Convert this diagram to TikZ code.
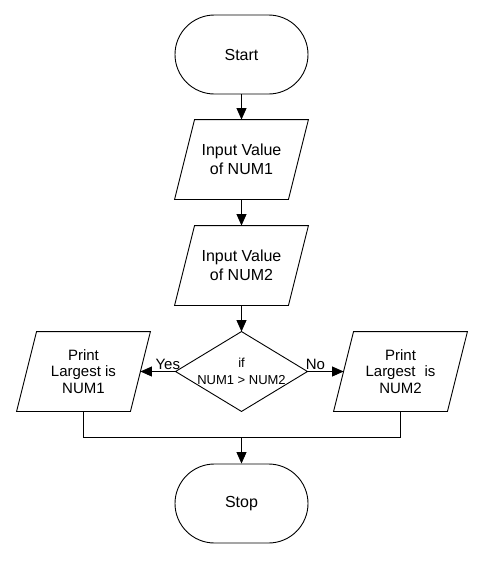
\documentclass[tikz,border=0pt]{standalone}
\usepackage{fontspec}
\setmainfont{Liberation Sans}
\usetikzlibrary{arrows.meta,shapes.misc}
\begin{document}
\begin{tikzpicture}[x=1pt,y=-1pt,line width=0.9pt,
  term/.style={rounded rectangle,draw,minimum width=133pt,minimum height=79pt,inner sep=0pt,font=\fontsize{16}{18.5}\selectfont},
  iobox/.style={rectangle,minimum width=113pt,minimum height=79pt,inner sep=0pt,align=center,font=\fontsize{16}{18.5}\selectfont},
  prbox/.style={rectangle,minimum width=113pt,minimum height=79pt,inner sep=0pt,align=center,font=\fontsize{15}{16.7}\selectfont},
  decbox/.style={rectangle,minimum width=131pt,minimum height=79pt,inner sep=0pt,align=center,font=\fontsize{13}{17}\selectfont},
  lbl/.style={font=\fontsize{15}{17}\selectfont,inner sep=0pt},
  arr/.style={-{Triangle[length=11.5pt,width=10pt]}}]
\useasboundingbox (0,0) rectangle (500,571);
\node[term] (start) at (241.5,54.5) {Start};
\node[iobox] (in1) at (241.5,159.5) {Input Value\\of NUM1};
\node[iobox] (in2) at (241.5,265.5) {Input Value\\of NUM2};
\node[decbox] (dec) at (241.5,371.5) {if\\NUM1 > NUM2};
\node[prbox] (pl) at (83.5,371.5) {Print\\Largest is\\NUM1};
\node[prbox] (pr) at (400.5,371.5) {Print\\Largest\hspace{9pt}is\\NUM2};
\node[term] (stop) at (241.5,503.5) {Stop};
\coordinate (m) at (241.5,437);
% parallelogram outlines
\foreach \n in {in1,in2,pl,pr}{
  \draw ([xshift=10pt]\n.north west) -- ([xshift=10pt]\n.north east)
     -- ([xshift=-10pt]\n.south east) -- ([xshift=-10pt]\n.south west) -- cycle;
}
\draw (dec.north) -- (dec.east) -- (dec.south) -- (dec.west) -- cycle;
% connectors
\draw[arr] (start.south) -- (in1.north);
\draw[arr] (in1.south) -- (in2.north);
\draw[arr] (in2.south) -- (dec.north);
\draw[arr] (dec.west) -- (pl.east) node[lbl,pos=0.22,above=1pt] {Yes};
\draw[arr] (dec.east) -- (pr.west) node[lbl,pos=0.22,above=1pt] {No};
\draw (pl.south) |- (m);
\draw (pr.south) |- (m);
\draw[arr] (m) -- (stop.north);
\end{tikzpicture}
\end{document}
